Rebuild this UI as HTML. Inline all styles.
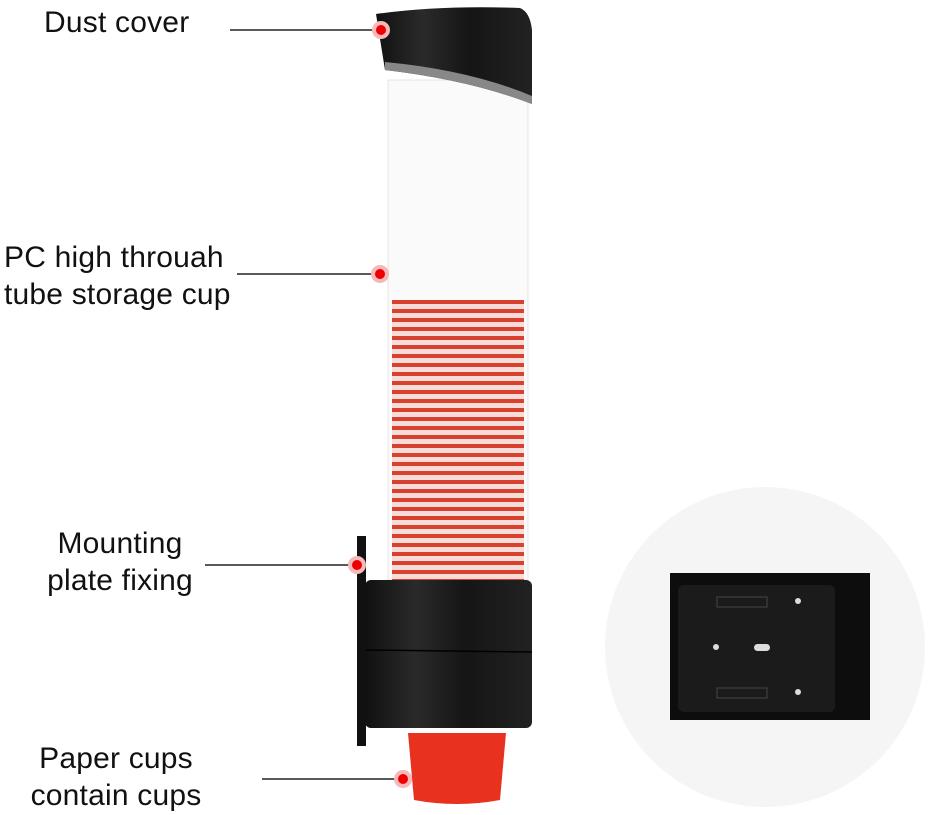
<!DOCTYPE html>
<html><head><meta charset="utf-8"><style>
body{margin:0;width:928px;height:815px;background:#fff;overflow:hidden;position:relative;font-family:"Liberation Sans",sans-serif}
.t{position:absolute;font-size:30px;color:#111;line-height:37px;text-align:center;white-space:nowrap;letter-spacing:0.2px}
</style></head><body>
<svg width="928" height="815" style="position:absolute;left:0;top:0">
<defs>
<linearGradient id="bk" x1="0" x2="1"><stop offset="0" stop-color="#111"/><stop offset=".3" stop-color="#2a2a2a"/><stop offset=".6" stop-color="#151515"/><stop offset="1" stop-color="#222"/></linearGradient>
<pattern id="cups" width="10" height="9" patternUnits="userSpaceOnUse"><rect width="10" height="9" fill="#f8dcd7"/><rect y="3" width="10" height="4" fill="#d8412f"/></pattern>
</defs>
<circle cx="765" cy="647" r="160" fill="#f5f5f5"/>
<rect x="670" y="573" width="200" height="147" fill="#0d0d0d"/>
<rect x="678" y="585" width="157" height="127" rx="6" fill="#1b1b1b"/>
<circle cx="798" cy="601" r="3" fill="#ddd"/><circle cx="716" cy="647" r="3" fill="#ddd"/><circle cx="798" cy="692" r="3" fill="#ddd"/>
<rect x="754" y="644" width="16" height="7" rx="3.5" fill="#ddd"/>
<rect x="717" y="597" width="50" height="10" fill="none" stroke="#444"/><rect x="717" y="688" width="50" height="10" fill="none" stroke="#444"/>
<rect x="388" y="80" width="140" height="500" fill="#fafafa" stroke="#e4e4e4"/>
<rect x="392" y="300" width="132" height="280" fill="url(#cups)"/>
<path d="M376 14 Q440 5 520 8 Q530 12 532 30 L532 104 Q470 80 385 70 Z" fill="url(#bk)"/>
<path d="M385 70 Q470 80 532 104 L532 96 Q470 70 385 62 Z" fill="#888"/>
<rect x="357" y="536" width="9" height="210" fill="#111"/>
<rect x="365" y="580" width="167" height="148" rx="6" fill="url(#bk)"/>
<line x1="366" y1="650" x2="532" y2="652" stroke="#000" stroke-width="1.5"/>
<path d="M408 733 L506 733 L500 800 Q457 808 414 800 Z" fill="#e8321f"/>
<g stroke="#222" stroke-width="1.5">
<line x1="230" y1="30" x2="378" y2="30"/><line x1="237" y1="274" x2="378" y2="274"/>
<line x1="205" y1="565" x2="355" y2="565"/><line x1="262" y1="779" x2="402" y2="779"/></g>
<g fill="#e00" stroke="#f6b8b8" stroke-width="4">
<circle cx="381" cy="30" r="7"/><circle cx="380" cy="274" r="7"/><circle cx="357" cy="565" r="7"/><circle cx="403" cy="779" r="7"/></g>
</svg>
<div class="t" style="left:44px;top:4px">Dust cover</div>
<div class="t" style="left:4px;top:239px;text-align:left">PC high throuah<br>tube storage cup</div>
<div class="t" style="left:30px;top:525px;width:180px">Mounting<br>plate fixing</div>
<div class="t" style="left:20px;top:740px;width:192px">Paper cups<br>contain cups</div>
</body></html>
